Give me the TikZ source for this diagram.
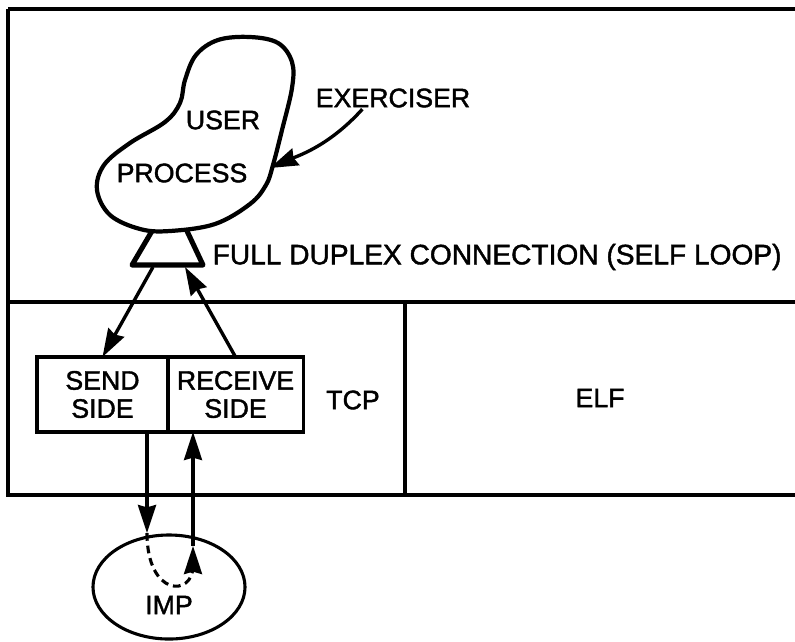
\documentclass[tikz,border=0pt]{standalone}
\usepackage{fontspec}
\setmainfont{Liberation Sans}[FakeBold=1.5]
\usetikzlibrary{shapes.geometric,positioning,arrows.meta}

\begin{document}
\begin{tikzpicture}[x=0.025cm,y=-0.025cm,
  txt/.style={font=\fontsize{19}{20}\selectfont,inner sep=1pt,align=center},
  frame/.style={line width=2.2pt},
  sidebox/.style={draw,line width=2.2pt,minimum height=1.875cm,outer sep=0pt,inner sep=0pt,font=\fontsize{19}{20}\selectfont,align=center},
  impbox/.style={draw,ellipse,line width=2.2pt,minimum width=3.8cm,minimum height=2.6cm,inner sep=0pt},
  conn/.style={line width=2.4pt,-{Stealth[length=0.7cm,width=0.45cm,inset=0.06cm]}}]
  \useasboundingbox (0,0) rectangle (795,641);

    % The frame
	\draw[frame] (8,9) -- (795,9);
	\draw[frame] (8,9) -- (8,495) -- (795,495);
	\draw[frame] (8,302) -- (795,302);
	\draw[frame] (405,302) -- (405,495);

    % The user process
	\draw[line width=3pt] plot[smooth cycle,tension=0.6] coordinates {
	  (170,231) (215,224) (250,204) (266,185) (273,165) (282,130) (292,88)
	  (292,62) (278,43) (250,37) (218,40) (196,55) (185,80) (180,103)
	  (165,122) (130,143) (104,165) (97,190) (110,215) (140,229)};
	\draw[line width=3.6pt,line join=round] (152,231) -- (132,265) -- (203,265) -- (187,231);
	\coordinate (sendin) at (153,267);
	\coordinate (recvin) at (185,267);
	\coordinate (blobr) at (270,168);

	\node [txt] at (223,120) (user) {USER};
	\node [txt] at (182,173) (proc) {PROCESS};
	\node [txt] at (393,98) (exer) {EXERCISER};
	\node [txt,font=\fontsize{20}{22}\selectfont,anchor=west] at (211,257) (duplex) {FULL DUPLEX CONNECTION (SELF LOOP)};

    % TCP and ELF
	\node [sidebox,minimum width=3.275cm] at (102.5,394.5) (send) {SEND\\SIDE};
	\node [sidebox,minimum width=3.375cm,right=0pt of send] (recv) {RECEIVE\\SIDE};
	\node [txt] at (353,400) (tcp) {TCP};
	\node [txt] at (600,398) (elf) {ELF};

    % The IMP
	\node [impbox,label={[txt,yshift=-0.45cm]center:IMP}] at (169,587) (imp) {};
	\coordinate (sendout) at (147,432);
	\coordinate (impin) at (147,533);
	\coordinate (loopend) at (193,566);
	\coordinate (impout) at (193,546);
	\coordinate (recvout) at (193,432);

    % Edges
	\draw[conn] (exer.200) .. controls (330,145) and (300,155) .. (blobr);
	\draw[conn] (sendin) -- (send.north);
	\draw[conn] (recv.north) -- (recvin);
	\draw[conn] (sendout) -- (impin);
	\draw[line width=2.2pt,dash pattern=on 5.5pt off 3.5pt] (impin) .. controls (147,597) and (193,597) .. (loopend);
	\draw[conn] (loopend) -- (impout);
	\draw[conn] (impout) -- (recvout);

\end{tikzpicture}
\end{document}
